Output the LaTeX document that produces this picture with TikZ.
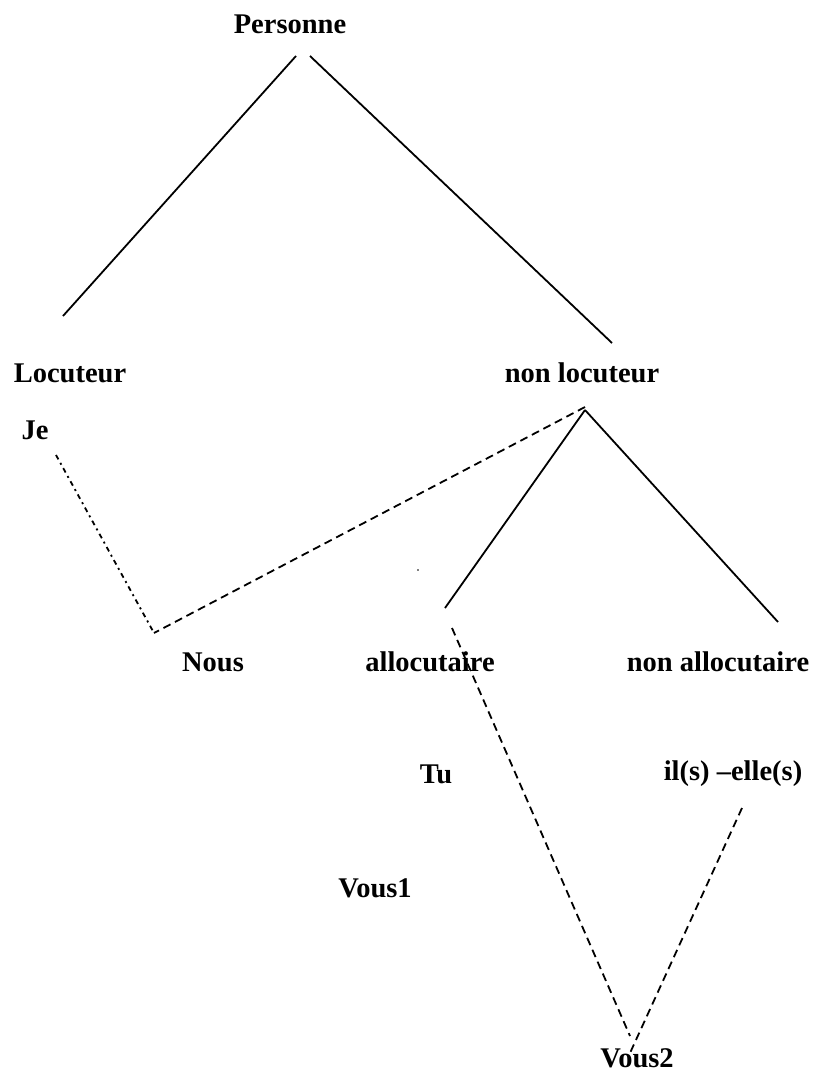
\documentclass[tikz,border=0pt]{standalone}
\usepackage{fontspec}
\setmainfont{Liberation Serif}
\begin{document}
\begin{tikzpicture}[x=1pt,y=-1pt,
  lbl/.style={font=\fontsize{28.5}{32}\selectfont\bfseries, inner sep=0pt, anchor=center},
  solidline/.style={line width=1.8pt},
  dashline/.style={line width=1.8pt, dash pattern=on 8pt off 5pt},
  dashdotline/.style={line width=1.8pt, dash pattern=on 5pt off 4pt on 2pt off 4pt}]
\useasboundingbox (0,0) rectangle (818,1075);
\node[lbl] (pers) at (290,24) {Personne};
\node[lbl] (loc) at (70,373) {Locuteur};
\node[lbl] (nonloc) at (582,373) {non locuteur};
\node[lbl] (je) at (35,430) {Je};
\node[lbl] (nous) at (213,662) {Nous};
\node[lbl] (alloc) at (430,662) {allocutaire};
\node[lbl] (nonalloc) at (718,662) {non allocutaire};
\node[lbl] (tu) at (436,774) {Tu};
\node[lbl] (il) at (733,774) {il(s) –elle(s)};
\node[lbl] (vous1) at (375,888) {Vous1};
\node[lbl] (vous2) at (637,1058) {Vous2};
% endpoints
\coordinate (p1) at (296,56);
\coordinate (p2) at (310,56);
\coordinate (l1) at (63,316);
\coordinate (n1) at (612,343);
\coordinate (nl) at (585,407);
\coordinate (nl2) at (585,410);
\coordinate (nousc) at (154,633);
\coordinate (je1) at (56,455);
\coordinate (al1) at (445,608);
\coordinate (na1) at (778,622);
\coordinate (al2) at (452,628);
\coordinate (v2a) at (630,1036);
\coordinate (il1) at (742,808);
\coordinate (v2b) at (630,1053);
\draw[solidline] (p1) -- (l1);
\draw[solidline] (p2) -- (n1);
\draw[dashline] (nl) -- (nousc);
\draw[dashdotline] (je1) -- (nousc);
\draw[solidline] (nl2) -- (al1);
\draw[solidline] (nl2) -- (na1);
\draw[dashline] (al2) -- (v2a);
\draw[dashline] (il1) -- (v2b);
\fill (418,570) circle (0.9pt);
\end{tikzpicture}
\end{document}
